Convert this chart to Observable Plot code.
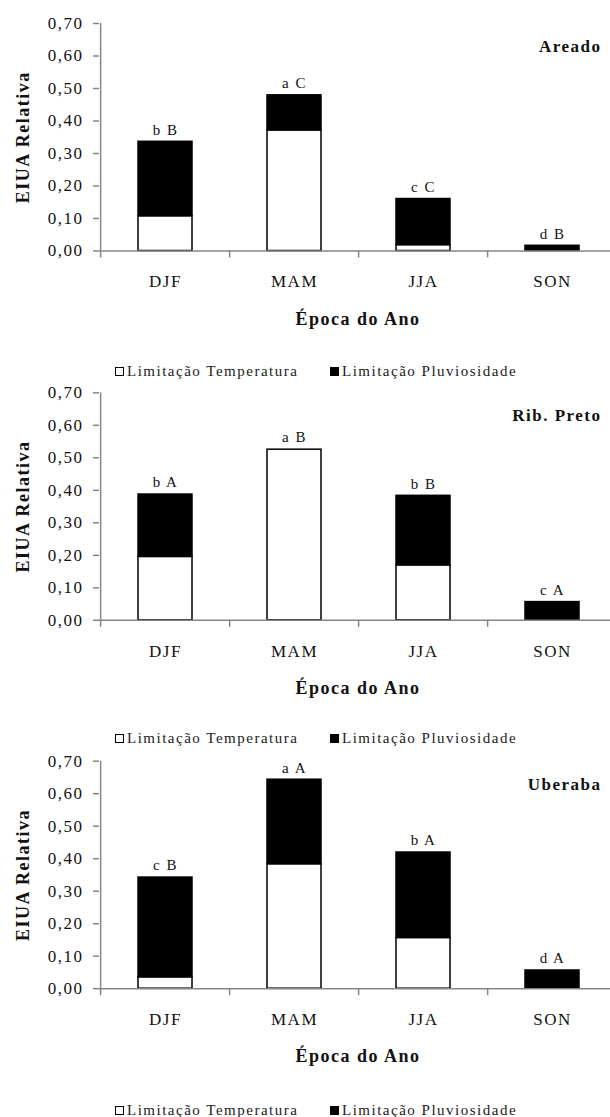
<!DOCTYPE html>
<html><head><meta charset="utf-8">
<script src="https://cdn.jsdelivr.net/npm/d3@7"></script>
<script src="https://cdn.jsdelivr.net/npm/@observablehq/plot@0.6"></script>
<style>
body{margin:0;background:#fff;}
#root{width:610px;}
.legend{height:18px;position:relative;font-family:"Liberation Serif","Times New Roman",Tinos,"DejaVu Serif",serif;font-size:15px;letter-spacing:1.5px;color:#1a1a1a;line-height:18px;}
.item{position:absolute;top:0;height:18px;display:flex;align-items:center;}
.sw{width:9px;height:9px;border:1px solid #000;margin-right:3px;box-sizing:border-box;}
</style></head><body><div id="root"></div>
<script>
const seasons = ["DJF", "MAM", "JJA", "SON"];
const stations = ["Areado", "Rib. Preto", "Uberaba"];
const tempLimit = [
  [0.107, 0.371, 0.018, 0.000],
  [0.195, 0.525, 0.169, 0.000],
  [0.035, 0.383, 0.156, 0.000]
];
const rainLimit = [
  [0.229, 0.108, 0.142, 0.016],
  [0.192, 0.000, 0.214, 0.056],
  [0.307, 0.260, 0.263, 0.056]
];
const letters = [
  ["b B", "a C", "c C", "d B"],
  ["b A", "a B", "b B", "c A"],
  ["c B", "a A", "b A", "d A"]
];
const seriesNames = ["Limitação Temperatura", "Limitação Pluviosidade"];
const yTicks = [0, 0.1, 0.2, 0.3, 0.4, 0.5, 0.6, 0.7];
const xTitle = "Época do Ano";
const yTitle = "EIUA Relativa";

// layout
const svgHeights = [362, 349, 354];
const marginTops = [23, 12.3, 13.7];
const plotH = 227.5;
const xRange = [99, 618];
const step = (xRange[1] - xRange[0]) / seasons.length;
const axisGray = "#868686";
const ink = "#111";
const serif = '"Liberation Serif", "Times New Roman", Tinos, "DejaVu Serif", serif';

const root = document.getElementById("root");

stations.forEach((name, p) => {
  const rows = [];
  seasons.forEach((s, i) => {
    rows.push({season: s, series: seriesNames[0], value: tempLimit[p][i]});
    rows.push({season: s, series: seriesNames[1], value: rainLimit[p][i]});
  });
  const totals = seasons.map((s, i) => ({season: s, total: tempLimit[p][i] + rainLimit[p][i], letter: letters[p][i]}));
  const H = svgHeights[p];
  const mt = marginTops[p];
  const chart = Plot.plot({
    width: 610,
    height: H,
    marginTop: mt,
    marginBottom: H - mt - plotH,
    marginLeft: xRange[0],
    marginRight: 0,
    style: {fontFamily: serif, fontSize: "17px", color: ink, letterSpacing: "1.5px", background: "#fff"},
    x: {type: "band", domain: seasons, range: xRange, paddingInner: 0.584, paddingOuter: 0.292, axis: null},
    y: {domain: [0, 0.7], axis: null},
    color: {domain: seriesNames, range: ["#ffffff", "#000000"]},
    marks: [
      Plot.barY(rows, {x: "season", y: "value", fill: "series", stroke: "#000", strokeWidth: 1.5}),
      Plot.ruleY([0], {stroke: axisGray, strokeWidth: 1.5}),
      Plot.ruleX([seasons[0]], {x: d => d, dx: -step / 2, y1: 0, y2: 0.7, stroke: axisGray, strokeWidth: 1.5}),
      Plot.ruleX(seasons, {x: d => d, dx: -step / 2, y1: 0, y2: 0, insetBottom: -7, stroke: axisGray, strokeWidth: 1.5}),
      Plot.axisY(yTicks, {tickFormat: d => d.toFixed(2).replace(".", ","), tickSize: 6, tickPadding: 10, stroke: axisGray, strokeWidth: 1.5, fill: ink, fontSize: 17, fontFamily: serif, label: null}),
      Plot.text(seasons, {x: d => d, text: d => d, frameAnchor: "bottom", lineAnchor: "middle", dy: 31, fontSize: 17, fontFamily: serif, fill: ink}),
      Plot.text([xTitle], {text: d => d, frameAnchor: "bottom", lineAnchor: "middle", dx: 3, dy: 68, fontSize: 18, fontWeight: "bold", fontFamily: serif, fill: ink}),
      Plot.text([yTitle], {text: d => d, frameAnchor: "left", textAnchor: "middle", lineAnchor: "middle", dx: -76, rotate: -90, fontSize: 18, fontWeight: "bold", fontFamily: serif, fill: ink}),
      Plot.text([name], {text: d => d, frameAnchor: "top-right", textAnchor: "end", lineAnchor: "middle", dx: -9, dy: 23, fontSize: 17, fontWeight: "bold", fontFamily: serif, fill: ink}),
      Plot.text(totals, {x: "season", y: "total", text: "letter", dy: -12, fontSize: 15, fontFamily: serif, fill: ink})
    ]
  });
  chart.style.display = "block";
  root.appendChild(chart);

  const leg = document.createElement("div");
  leg.className = "legend";
  const lefts = [115, 330];
  seriesNames.forEach((sn, k) => {
    const it = document.createElement("div");
    it.className = "item";
    it.style.left = lefts[k] + "px";
    const sw = document.createElement("span");
    sw.className = "sw";
    sw.style.background = k === 0 ? "#fff" : "#000";
    const tx = document.createElement("span");
    tx.textContent = sn;
    it.appendChild(sw);
    it.appendChild(tx);
    leg.appendChild(it);
  });
  root.appendChild(leg);
});
</script>
</body></html>
